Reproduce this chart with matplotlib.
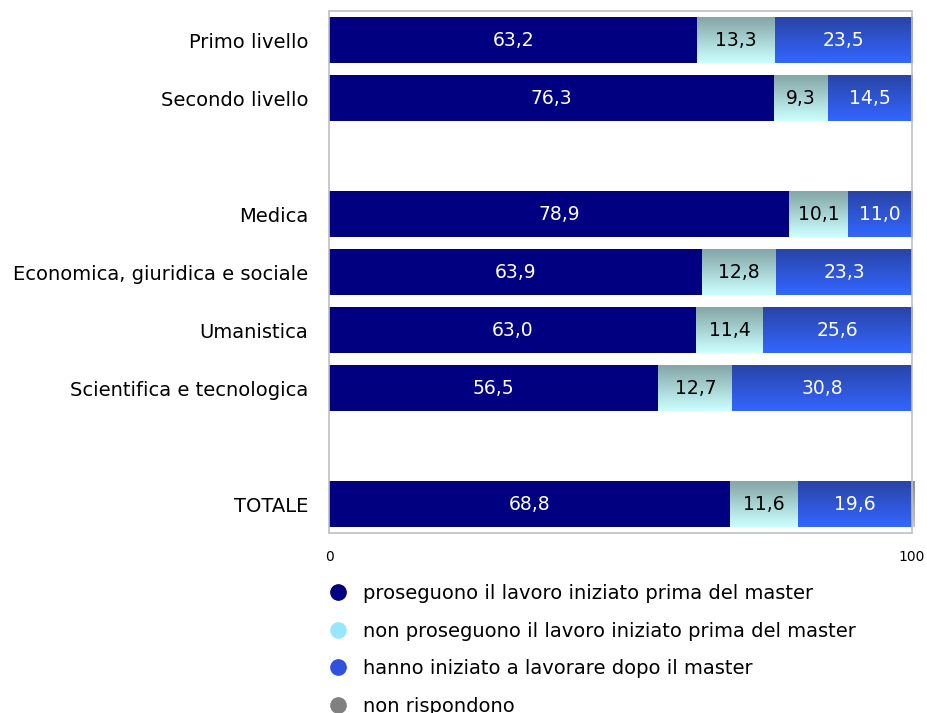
import numpy as np
import matplotlib
matplotlib.use("Agg")
import matplotlib.pyplot as plt
from matplotlib.colors import LinearSegmentedColormap
from matplotlib.lines import Line2D

# categories (empty strings are the gaps between groups)
categories = ["Primo livello", "Secondo livello", "",
              "Medica", "Economica, giuridica e sociale", "Umanistica",
              "Scientifica e tecnologica", "", "TOTALE"]
proseguono = [63.2, 76.3, None, 78.9, 63.9, 63.0, 56.5, None, 68.8]
non_proseguono = [13.3, 9.3, None, 10.1, 12.8, 11.4, 12.7, None, 11.6]
iniziato_dopo = [23.5, 14.5, None, 11.0, 23.3, 25.6, 30.8, None, 19.6]
non_rispondono = [0.0, 0.0, None, 0.0, 0.0, 0.0, 0.0, None, 0.4]

series_names = ["proseguono il lavoro iniziato prima del master",
                "non proseguono il lavoro iniziato prima del master",
                "hanno iniziato a lavorare dopo il master",
                "non rispondono"]

fig = plt.figure(figsize=(9.27, 7.13), dpi=100)
ax = fig.add_axes([329 / 927, 1 - 533 / 713, 583 / 927, 522 / 713])

cmaps = [
    None,
    LinearSegmentedColormap.from_list("cy", ["#84a6a6", "#ccffff"]),
    LinearSegmentedColormap.from_list("bl", ["#2944a6", "#3366ff"]),
    LinearSegmentedColormap.from_list("gr", ["#8c8c8c", "#c8c8c8"]),
]
solid = "#000080"
grad = np.linspace(0, 1, 64).reshape(-1, 1)

h = 0.79
series = [proseguono, non_proseguono, iniziato_dopo, non_rispondono]
for i, cat in enumerate(categories):
    if proseguono[i] is None:
        continue
    left = 0
    for s, vals in enumerate(series):
        v = vals[i]
        if v <= 0:
            continue
        if cmaps[s] is None:
            ax.barh(i, v, left=left, height=h, color=solid, zorder=2)
        else:
            ax.imshow(grad, cmap=cmaps[s], aspect="auto", origin="upper",
                      extent=(left, left + v, i + h / 2, i - h / 2),
                      interpolation="bilinear", zorder=2, clip_on=False)
        if s < 3:
            txt_color = "black" if s == 1 else "white"
            ax.text(left + v / 2, i, f"{v:.1f}".replace(".", ","),
                    ha="center", va="center", color=txt_color,
                    fontsize=13.5, zorder=3)
        left += v

ax.set_xlim(0, 100)
ax.set_ylim(len(categories) - 0.5, -0.5)
ax.set_yticks(range(len(categories)))
ax.set_yticklabels(categories, fontsize=14)
ax.set_xticks([0, 100])
ax.set_xticklabels(["0", "100"], fontsize=10)
ax.tick_params(axis="x", length=0, pad=12)
ax.tick_params(axis="y", length=0, pad=15)
for sp in ax.spines.values():
    sp.set_color("#c0c0c0")
    sp.set_linewidth(1.2)

leg_colors = ["#000080", "#99e6ff", "#3050e0", "#808080"]
handles = [Line2D([], [], linestyle="none", marker="o", markersize=11,
                  color=c) for c in leg_colors]
fig.legend(handles, series_names, loc="upper left",
           bbox_to_anchor=(320.5 / 927, 1 - 576.5 / 713), frameon=False,
           fontsize=14, labelspacing=0.95, handlelength=1.0,
           handletextpad=0.79, borderaxespad=0)

fig.savefig("out.png", dpi=100)
